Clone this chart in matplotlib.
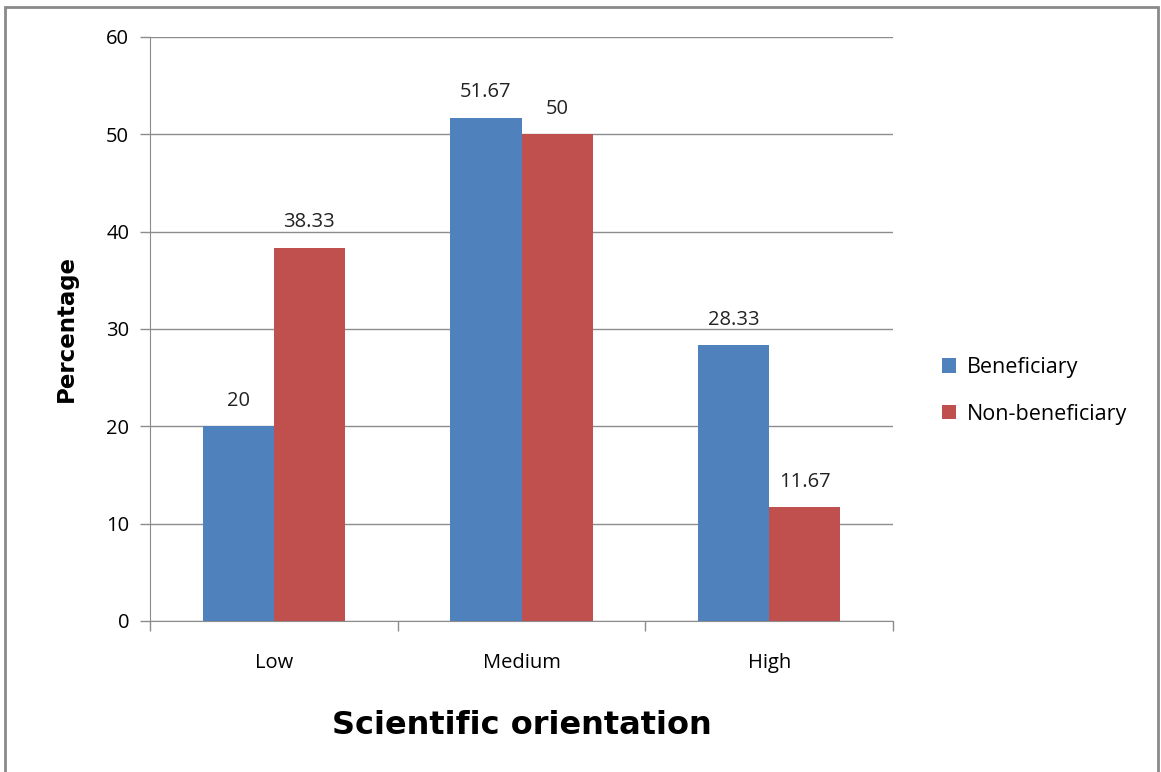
import numpy as np
import matplotlib.pyplot as plt
from matplotlib.patches import Rectangle

categories = ['Low', 'Medium', 'High']
beneficiary = [20, 51.67, 28.33]
non_beneficiary = [38.33, 50, 11.67]
series_names = ['Beneficiary', 'Non-beneficiary']
yticks = [0, 10, 20, 30, 40, 50, 60]

BLUE = '#4F81BD'
RED = '#C0504D'
GRID = '#8c8c8c'

plt.rcParams['font.family'] = ['Open Sans', 'DejaVu Sans']

fig = plt.figure(figsize=(11.61, 7.72), dpi=100)
ax = fig.add_axes([0.1292, 0.1956, 0.640, 0.7565])

# outer chart frame
fig.patches.append(Rectangle((0.0043, -0.02), 0.9931, 1.011, transform=fig.transFigure,
                             fill=False, edgecolor='#8a8a8a', linewidth=2.0))

x = np.arange(len(categories))
w = 0.287
b1 = ax.bar(x - w/2, beneficiary, w, color=BLUE, label=series_names[0], zorder=3)
b2 = ax.bar(x + w/2, non_beneficiary, w, color=RED, label=series_names[1], zorder=3)

for bars, vals in ((b1, beneficiary), (b2, non_beneficiary)):
    for r, v in zip(bars, vals):
        ax.text(r.get_x() + r.get_width()/2, v + 1.6, f'{v:g}', ha='center', va='bottom',
                fontsize=14.5, color='#222222')

ax.set_xlim(-0.5, 2.5)
ax.set_ylim(0, 60)
ax.set_yticks(yticks)
ax.yaxis.grid(True, color=GRID, linewidth=1.0, zorder=0)
ax.set_axisbelow(True)

# category tick marks at group boundaries, labels at centres
ax.set_xticks([-0.5, 0.5, 1.5, 2.5])
ax.set_xticklabels([])
ax.set_xticks(x, minor=True)
ax.set_xticklabels(categories, minor=True)
ax.tick_params(axis='x', which='major', length=7, color=GRID, width=1.0)
ax.tick_params(axis='x', which='minor', length=0, pad=23, labelsize=14.5)
ax.tick_params(axis='y', length=7, color=GRID, width=1.0, labelsize=14.5, pad=8)

for s in ('top', 'right'):
    ax.spines[s].set_visible(False)
ax.spines['left'].set_color(GRID)
ax.spines['bottom'].set_color(GRID)

ax.set_ylabel('Percentage', fontsize=16.5, fontweight='bold', family='DejaVu Sans', labelpad=20)
ax.set_xlabel('Scientific orientation', fontsize=23, fontweight='heavy',
              family='DejaVu Sans', labelpad=27)

ax.legend(loc='center left', bbox_to_anchor=(1.04, 0.394), frameon=False,
          fontsize=15.5, handlelength=0.65, handleheight=0.65, labelspacing=1.2, handletextpad=0.5)

fig.savefig('out.png', dpi=100)
